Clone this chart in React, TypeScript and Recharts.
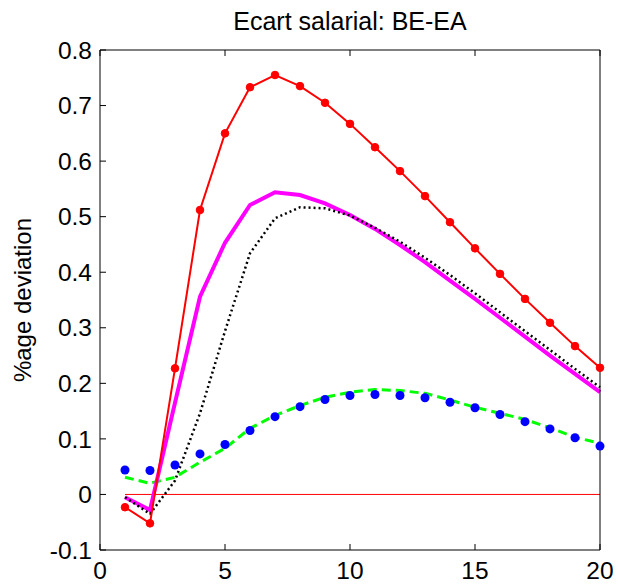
import React from "react";
import { LineChart, Line, XAxis, YAxis } from "recharts";

const periods = [1, 2, 3, 4, 5, 6, 7, 8, 9, 10, 11, 12, 13, 14, 15, 16, 17, 18, 19, 20];

const redMarked = [
  -0.023, -0.052, 0.227, 0.512, 0.65, 0.733, 0.755, 0.735, 0.705, 0.667,
  0.625, 0.582, 0.537, 0.49, 0.443, 0.397, 0.352, 0.309, 0.267, 0.228,
];
const magenta = [
  -0.005, -0.028, 0.165, 0.356, 0.453, 0.521, 0.544, 0.539, 0.524, 0.503,
  0.478, 0.449, 0.418, 0.385, 0.352, 0.318, 0.284, 0.25, 0.217, 0.184,
];
const blackDotted = [
  -0.005, -0.035, 0.025, 0.146, 0.294, 0.434, 0.497, 0.517, 0.515, 0.502,
  0.48, 0.455, 0.426, 0.395, 0.362, 0.328, 0.294, 0.26, 0.226, 0.193,
];
const greenDashed = [
  0.031, 0.02, 0.031, 0.058, 0.083, 0.119, 0.142, 0.16, 0.175, 0.184,
  0.189, 0.187, 0.182, 0.17, 0.157, 0.146, 0.135, 0.12, 0.103, 0.092,
];
const blueDots = [
  0.044, 0.043, 0.053, 0.073, 0.09, 0.115, 0.14, 0.158, 0.171, 0.178,
  0.18, 0.178, 0.174, 0.166, 0.156, 0.144, 0.131, 0.118, 0.102, 0.087,
];
const baseline = periods.map(() => 0);

const xTicks = [0, 5, 10, 15, 20];
const yTicks = [-0.1, 0, 0.1, 0.2, 0.3, 0.4, 0.5, 0.6, 0.7, 0.8];
const xDomain = [0, 20];
const yDomain = [-0.1, 0.8];

const title = "Ecart salarial: BE-EA";
const yLabel = "%age deviation";

const data = periods.map((p, i) => ({
  period: p,
  red: redMarked[i],
  magenta: magenta[i],
  dotted: blackDotted[i],
  green: greenDashed[i],
  blue: blueDots[i],
  zero: baseline[i],
}));

const font = "'Liberation Sans', Arial, Helvetica, sans-serif";
const TICK_LEN = 6;
const ink = "#000";
const axisLine = { stroke: ink, strokeWidth: 1 };

const fmtY = (v: number) => (v === 0 ? "0" : v.toFixed(1));

// inward tick marks drawn together with the labels
const BottomTick = ({ x, y, payload }: any) => (
  <g>
    <path d={`M${x},${y - 12}v${-TICK_LEN}`} stroke={ink} strokeWidth={1} />
    <text x={x} y={y} dy="0.71em" textAnchor="middle" fontSize={24.5} fontFamily={font} fill={ink}>
      {payload.value}
    </text>
  </g>
);

const LeftTick = ({ x, y, payload }: any) => (
  <g>
    <path d={`M${x + 8},${y}h${TICK_LEN}`} stroke={ink} strokeWidth={1} />
    <text x={x} y={y} dy="0.355em" textAnchor="end" fontSize={24.5} fontFamily={font} fill={ink}>
      {fmtY(payload.value)}
    </text>
  </g>
);

const TopTick = ({ x, y }: any) => (
  <path d={`M${x},${y}v${TICK_LEN}`} stroke={ink} strokeWidth={1} />
);

const RightTick = ({ x, y }: any) => (
  <path d={`M${x},${y}h${-TICK_LEN}`} stroke={ink} strokeWidth={1} />
);

const YTitle = (props: any) => {
  const vb = props.viewBox || {};
  const cx = 22;
  const cy = vb.y + vb.height / 2;
  return (
    <text
      x={cx}
      y={cy}
      transform={`rotate(-90, ${cx}, ${cy})`}
      textAnchor="middle"
      dominantBaseline="central"
      fontSize={24}
      fontFamily={font}
      fill={ink}
    >
      {yLabel}
    </text>
  );
};

const TopTitle = (props: any) => {
  const vb = props.viewBox || {};
  return (
    <text
      x={vb.x + vb.width / 2}
      y={29.5}
      textAnchor="middle"
      fontSize={25}
      fontFamily={font}
      fill={ink}
    >
      {title}
    </text>
  );
};

export default function App() {
  return (
    <div style={{ position: "absolute", left: 0, top: 0, background: "#fff" }}>
      <LineChart
        width={618}
        height={586}
        data={data}
        margin={{ top: 49, right: 17, left: 0, bottom: 0 }}
      >
        <XAxis
          xAxisId="b"
          dataKey="period"
          type="number"
          domain={xDomain}
          ticks={xTicks}
          height={36}
          tickSize={0}
          tickMargin={12}
          axisLine={axisLine}
          tickLine={false}
          tick={<BottomTick />}
          interval={0}
        />
        <XAxis
          xAxisId="t"
          orientation="top"
          dataKey="period"
          type="number"
          domain={xDomain}
          ticks={xTicks}
          height={1}
          tickSize={0}
          tickMargin={0}
          axisLine={axisLine}
          tickLine={false}
          tick={<TopTick />}
          interval={0}
          label={<TopTitle />}
        />
        <YAxis
          yAxisId="l"
          type="number"
          domain={yDomain}
          ticks={yTicks}
          width={100}
          tickSize={0}
          tickMargin={8}
          axisLine={axisLine}
          tickLine={false}
          tick={<LeftTick />}
          interval={0}
          label={<YTitle />}
        />
        <YAxis
          yAxisId="r"
          orientation="right"
          type="number"
          domain={yDomain}
          ticks={yTicks}
          width={1}
          tickSize={0}
          tickMargin={0}
          axisLine={axisLine}
          tickLine={false}
          tick={<RightTick />}
          interval={0}
        />
        <Line
          xAxisId="b"
          yAxisId="l"
          dataKey="zero"
          stroke="#ff0000"
          strokeWidth={1}
          dot={false}
          isAnimationActive={false}
        />
        <Line
          xAxisId="b"
          yAxisId="l"
          dataKey="green"
          stroke="#00ff00"
          strokeWidth={3}
          strokeDasharray="9 5"
          dot={false}
          isAnimationActive={false}
        />
        <Line
          xAxisId="b"
          yAxisId="l"
          dataKey="blue"
          stroke="none"
          dot={{ r: 4.5, fill: "#0000ff", stroke: "none" }}
          isAnimationActive={false}
        />
        <Line
          xAxisId="b"
          yAxisId="l"
          dataKey="magenta"
          stroke="#ff00ff"
          strokeWidth={4}
          dot={false}
          isAnimationActive={false}
        />
        <Line
          xAxisId="b"
          yAxisId="l"
          dataKey="dotted"
          stroke={ink}
          strokeWidth={2.5}
          strokeDasharray="2 3"
          dot={false}
          isAnimationActive={false}
        />
        <Line
          xAxisId="b"
          yAxisId="l"
          dataKey="red"
          stroke="#ff0000"
          strokeWidth={2}
          dot={{ r: 3.8, fill: "#ff0000", stroke: "#ff0000", strokeWidth: 1 }}
          isAnimationActive={false}
        />
      </LineChart>
    </div>
  );
}
